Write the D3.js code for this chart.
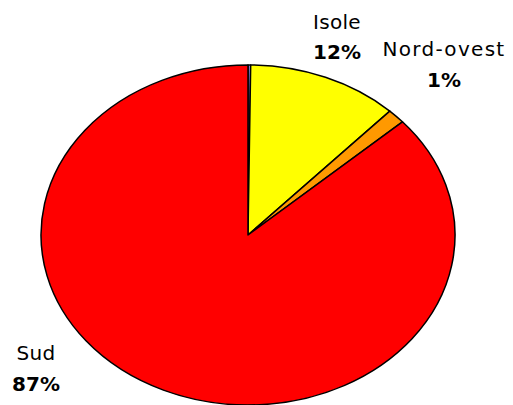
<!DOCTYPE html>
<html>
<head>
<meta charset="utf-8">
<script src="https://cdn.jsdelivr.net/npm/d3@7"></script>
<style>
  html, body { margin: 0; padding: 0; background: #fff; }
  svg { display: block; }
  text { font-family: "DejaVu Sans", Verdana, sans-serif; fill: #000; }
</style>
</head>
<body>
<svg id="chart" width="513" height="405"></svg>
<script>
// Data
const categories = ["Nord-est", "Isole", "Nord-ovest", "Sud"];
const values = [0.2, 11.8, 1.4, 86.6];
const colors = ["#9999FF", "#FFFF00", "#FF9900", "#FF0000"];
const percentLabels = ["", "12%", "1%", "87%"];
const showLabel = [false, true, true, true];

const W = 513, H = 405;
const cx = 248, cy = 235, rx = 207, ry = 170;

const svg = d3.select("#chart");

const pie = d3.pie().sort(null).value(d => d.value).startAngle(0).endAngle(2 * Math.PI);
const data = categories.map((c, i) => ({ name: c, value: values[i], color: colors[i], pct: percentLabels[i], show: showLabel[i] }));
const arcs = pie(data);

const arc = d3.arc().innerRadius(0).outerRadius(1);

const g = svg.append("g").attr("transform", `translate(${cx},${cy}) scale(${rx},${ry})`);
g.selectAll("path")
  .data(arcs)
  .enter().append("path")
  .attr("d", arc)
  .attr("fill", d => d.data.color)
  .attr("stroke", "#000")
  .attr("stroke-width", 1.5)
  .attr("stroke-linejoin", "round")
  .attr("vector-effect", "non-scaling-stroke");

// Labels (placement as in the reference)
const labelPos = {
  "Isole": { x: 337, y1: 29, y2: 59 },
  "Nord-ovest": { x: 444, y1: 56, y2: 87 },
  "Sud": { x: 36, y1: 360, y2: 391 }
};
const lab = svg.append("g");
arcs.filter(d => d.data.show).forEach(d => {
  const p = labelPos[d.data.name];
  lab.append("text")
    .attr("x", p.x).attr("y", p.y1)
    .attr("text-anchor", "middle")
    .attr("font-size", 20)
    .attr("letter-spacing", d.data.name === "Nord-ovest" ? 1.3 : 0.3)
    .text(d.data.name);
  lab.append("text")
    .attr("x", p.x).attr("y", p.y2)
    .attr("text-anchor", "middle")
    .attr("font-size", 20)
    .attr("font-weight", "bold")
    .text(d.data.pct);
});
</script>
</body>
</html>
